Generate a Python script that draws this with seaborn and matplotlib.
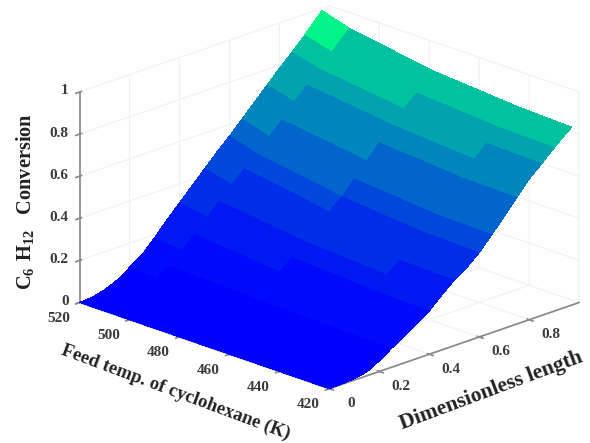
# Conversion surface for the cyclohexane reactor
import numpy as np
import matplotlib
matplotlib.use("Agg")
import matplotlib.pyplot as plt
import seaborn as sns
from matplotlib.colors import ListedColormap
from mpl_toolkits.mplot3d import proj3d

# --- data ---
temps = [520, 509, 475, 442, 420]
lengths = [0, 0.05, 0.1, 0.15, 0.2, 0.25, 0.3, 0.35, 0.4, 0.45, 0.5,
           0.55, 0.6, 0.65, 0.7, 0.75, 0.8, 0.85, 0.9, 0.97]
conv_520 = [0, 0.005, 0.02, 0.045, 0.085, 0.125, 0.185, 0.25, 0.31, 0.37, 0.43,
            0.49, 0.545, 0.605, 0.665, 0.725, 0.785, 0.84, 0.90, 0.99]
conv_509 = [0, 0.004, 0.016, 0.036, 0.075, 0.115, 0.168, 0.226, 0.285, 0.34, 0.40,
            0.455, 0.505, 0.565, 0.625, 0.69, 0.75, 0.805, 0.865, 0.95]
conv_475 = [0, 0.003, 0.01, 0.026, 0.06, 0.1, 0.14, 0.185, 0.235, 0.29, 0.345,
            0.39, 0.44, 0.505, 0.57, 0.635, 0.70, 0.755, 0.81, 0.885]
conv_442 = [0, 0.002, 0.007, 0.02, 0.052, 0.092, 0.128, 0.17, 0.21, 0.265, 0.315,
            0.355, 0.405, 0.47, 0.535, 0.605, 0.672, 0.727, 0.782, 0.855]
conv_420 = [0, 0.002, 0.006, 0.018, 0.05, 0.09, 0.125, 0.165, 0.205, 0.26, 0.31,
            0.35, 0.40, 0.465, 0.53, 0.60, 0.668, 0.72, 0.775, 0.845]

temp_ticks = [520, 500, 480, 460, 440, 420]
length_ticks = [0, 0.2, 0.4, 0.6, 0.8]
conv_ticks = [0, 0.2, 0.4, 0.6, 0.8, 1]
# where each conversion band sits on the winter colormap
band_levels = [0, 0.04, 0.1, 0.18, 0.28, 0.4, 0.52, 0.64, 0.76, 0.95]

sns.set_theme(style="white")
plt.rcParams['font.family'] = ['Liberation Serif', 'DejaVu Serif']
plt.rcParams['font.weight'] = 'bold'
plt.rcParams['mathtext.fontset'] = 'custom'
plt.rcParams['mathtext.rm'] = 'Liberation Serif:bold'

fig = plt.figure(figsize=(5.9, 4.43), dpi=100)
# 3D axes draw in a square box, so it has to be bigger than the figure or the surface gets clipped
ax = fig.add_axes([-125.6 / 590, -209.2 / 443, 886 / 590, 886 / 443], projection='3d', proj_type='ortho')
ax.view_init(elev=20.2, azim=-45)
ax.set_box_aspect((1, 1, 0.635), zoom=0.6)

# --- surface ---
T, L = np.meshgrid(temps, lengths)
Z = np.array([conv_520, conv_509, conv_475, conv_442, conv_420]).T
winter = sns.color_palette("winter", as_cmap=True)
winter_bands = ListedColormap([winter(b) for b in band_levels])
ax.plot_surface(T, L, Z, cmap=winter_bands, vmin=0, vmax=1, rstride=1, cstride=1,
                linewidth=0, antialiased=False, shade=False)

ax.set_xlim(520, 420)
ax.set_ylim(0, 1)
ax.set_zlim(0, 1)
ax.set_xticks(temp_ticks)
ax.set_yticks(length_ticks)
ax.set_zticks(conv_ticks)
ax.set_xticklabels([])
ax.set_yticklabels([])
ax.set_zticklabels([])
ax.zaxis.set_ticks_position('lower')
ax.tick_params(axis='both', color='#8a8a8a')

for axis in (ax.xaxis, ax.yaxis, ax.zaxis):
    axis.set_pane_color((1, 1, 1, 0))
    axis.pane.set_edgecolor((1, 1, 1, 0))
    axis.line.set_color('#8a8a8a')
    axis._axinfo['grid'].update(color='#f2f2f2', linewidth=0.9)
ax.grid(True)


def tick_text(x, y, z, label, dx, dy, ha='center'):
    # label placed at a pixel offset from its tick
    px, py, _ = proj3d.proj_transform(x, y, z, ax.get_proj())
    ax.annotate(label, xy=(px, py), xycoords='data', xytext=(dx, dy),
                textcoords='offset pixels', ha=ha, va='center',
                fontsize=11, color='#3a3a3a')


for t in temp_ticks:
    tick_text(t, 0, 0, str(t), -21, -16)
for l in length_ticks:
    tick_text(420, l, 0, f"{l:g}", 22, -15)
for c in conv_ticks:
    tick_text(520, 0, c, f"{c:g}", -11, 1, ha='right')

fig.text(25 / 590, 1 - 201 / 443, r"$\mathrm{C_{6}\ H_{12}}$   Conversion", rotation=90,
         ha='center', va='center', fontsize=14.7, color='#222222')
fig.text(176 / 590, 1 - 392 / 443, "Feed temp. of cyclohexane (K)", rotation=-20.5,
         ha='center', va='center', fontsize=13.5, color='#222222')
fig.text(491 / 590, 1 - 391 / 443, "Dimensionless length", rotation=20.5,
         ha='center', va='center', fontsize=15.6, color='#222222')

fig.savefig('out.png', dpi=100)
